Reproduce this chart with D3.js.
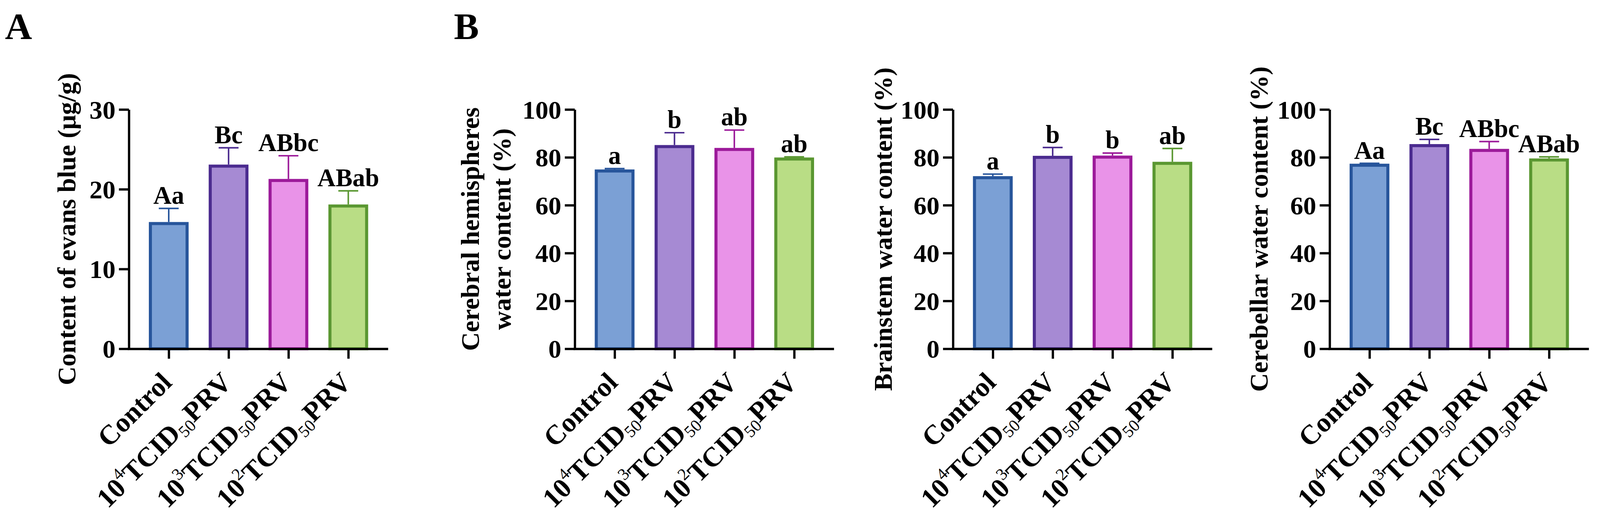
<!DOCTYPE html>
<html>
<head>
<meta charset="utf-8">
<script src="https://cdn.jsdelivr.net/npm/d3@7"></script>
<style>
  html, body { margin: 0; padding: 0; background: #fff; overflow: hidden; }
  #chart svg { display: block; width: 100vw; height: 100vh; }
  svg text { font-family: 'Liberation Serif', 'Times New Roman', serif; font-weight: bold; fill: #000; }
</style>
</head>
<body>
<div id="chart"></div>
<script>
// groups and their doses (null = control)
const groups = ['Control', '10^4', '10^3', '10^2'];
const doses = [null, '4', '3', '2'];

// A: Evans blue content (μg/g)
const evansMean = [15.7, 22.9, 21.1, 17.9];
const evansErr = [1.9, 2.3, 3.1, 1.9];
const evansLetters = ['Aa', 'Bc', 'ABbc', 'ABab'];

// B: water content (%)
const hemiMean = [74.3, 84.5, 83.3, 79.3];
const hemiErr = [1.0, 5.8, 8.1, 0.9];
const hemiLetters = ['a', 'b', 'ab', 'ab'];

const stemMean = [71.5, 80.0, 80.1, 77.5];
const stemErr = [1.5, 4.1, 1.7, 6.2];
const stemLetters = ['a', 'b', 'b', 'ab'];

const cbMean = [76.7, 84.9, 82.9, 78.9];
const cbErr = [0.8, 2.6, 3.7, 1.3];
const cbLetters = ['Aa', 'Bc', 'ABbc', 'ABab'];

const ticksA = [0, 10, 20, 30];
const ticksB = [0, 20, 40, 60, 80, 100];

const fills = ['#7BA0D5', '#A68AD3', '#E993E8', '#B9DD85'];
const strokes = ['#27559B', '#4B2B8F', '#9C1A9A', '#5A9731'];

const width = 4184, height = 1342;
const yTop = 272, yBottom = 898;

const svg = d3.select('#chart').append('svg')
  .attr('viewBox', `0 0 ${width} ${height}`)
  .attr('width', width).attr('height', height);

// panel letters
svg.append('text').attr('x', 13).attr('y', 88).attr('font-size', 98).text('A');
svg.append('text').attr('x', 1187).attr('y', 88).attr('font-size', 98).text('B');

const panels = [
  { axisX: 337, max: 30, ticks: ticksA, mean: evansMean, err: evansErr, letters: evansLetters,
    title: ['Content of evans blue (μg/g)'], titleX: [175] },
  { axisX: 1503, max: 100, ticks: ticksB, mean: hemiMean, err: hemiErr, letters: hemiLetters,
    title: ['Cerebral hemispheres', 'water content (%)'], titleX: [1230, 1313] },
  { axisX: 2492, max: 100, ticks: ticksB, mean: stemMean, err: stemErr, letters: stemLetters,
    title: ['Brainstem water content (%)'], titleX: [2310] },
  { axisX: 3477, max: 100, ticks: ticksB, mean: cbMean, err: cbErr, letters: cbLetters,
    title: ['Cerebellar water content (%)'], titleX: [3292] }
];

panels.forEach(p => {
  const g = svg.append('g');
  const x = d3.scalePoint().domain(groups).range([p.axisX, p.axisX + 678]).padding(0.666);
  const y = d3.scaleLinear().domain([0, p.max]).range([yBottom, yTop]);
  const barW = 96;

  // bars
  g.selectAll('rect.bar').data(groups).join('rect')
    .attr('class', 'bar')
    .attr('x', d => x(d) - barW / 2)
    .attr('y', (d, i) => y(p.mean[i]))
    .attr('width', barW)
    .attr('height', (d, i) => yBottom - y(p.mean[i]))
    .attr('fill', (d, i) => fills[i])
    .attr('stroke', (d, i) => strokes[i])
    .attr('stroke-width', 8);

  // upper error bars
  const eb = g.selectAll('g.err').data(groups).join('g').attr('class', 'err')
    .attr('stroke', (d, i) => strokes[i]).attr('stroke-width', 4);
  eb.append('line')
    .attr('x1', d => x(d)).attr('x2', d => x(d))
    .attr('y1', (d, i) => y(p.mean[i]) - 4)
    .attr('y2', (d, i) => y(p.mean[i] + p.err[i]));
  eb.append('line')
    .attr('x1', d => x(d) - 26).attr('x2', d => x(d) + 26)
    .attr('y1', (d, i) => y(p.mean[i] + p.err[i]))
    .attr('y2', (d, i) => y(p.mean[i] + p.err[i]));

  // significance letters
  g.selectAll('text.sig').data(groups).join('text')
    .attr('class', 'sig')
    .attr('x', d => x(d))
    .attr('y', (d, i) => y(p.mean[i] + p.err[i]) - 12)
    .attr('text-anchor', 'middle')
    .attr('font-size', 66)
    .text((d, i) => p.letters[i]);

  // y axis
  const ya = g.append('g').attr('transform', `translate(${p.axisX},0)`)
    .call(d3.axisLeft(y).tickValues(p.ticks).tickSize(26).tickSizeOuter(0).tickPadding(9));
  ya.selectAll('path, line').attr('stroke', '#000').attr('stroke-width', 6);
  ya.selectAll('text').attr('font-size', 68).attr('dy', '0.34em')
    .style('font-family', "'Liberation Serif', 'Times New Roman', serif").style('font-weight', 'bold');

  // x axis
  const xa = g.append('g').attr('transform', `translate(0,${yBottom})`)
    .call(d3.axisBottom(x).tickSize(26).tickSizeOuter(0).tickFormat(''));
  xa.selectAll('path, line').attr('stroke', '#000').attr('stroke-width', 6);
  xa.select('.domain').attr('d', `M${p.axisX - 3},0.5H${p.axisX + 678}`);

  // rotated category labels
  groups.forEach((d, i) => {
    const t = g.append('text')
      .attr('text-anchor', 'end')
      .attr('font-size', 72)
      .attr('transform', `translate(${x(d) + 12},${yBottom + 92}) rotate(-45)`);
    if (doses[i] === null) {
      t.text('Control');
    } else {
      t.append('tspan').text('10');
      t.append('tspan').attr('font-size', 44).attr('font-weight', 'normal').attr('dy', -32).text(doses[i]);
      t.append('tspan').attr('dy', 32).text('TCID');
      t.append('tspan').attr('font-size', 44).attr('font-weight', 'normal').attr('dy', 12).text('50');
      t.append('tspan').attr('dy', -12).text('PRV');
    }
  });

  // y title
  const cy = (yTop + yBottom) / 2;
  p.title.forEach((line, k) => {
    g.append('text')
      .attr('text-anchor', 'middle')
      .attr('font-size', 68)
      .attr('transform', `translate(${p.titleX[k]},${cy}) rotate(-90)`)
      .attr('dy', '0.33em')
      .text(line);
  });
});
</script>
</body>
</html>
